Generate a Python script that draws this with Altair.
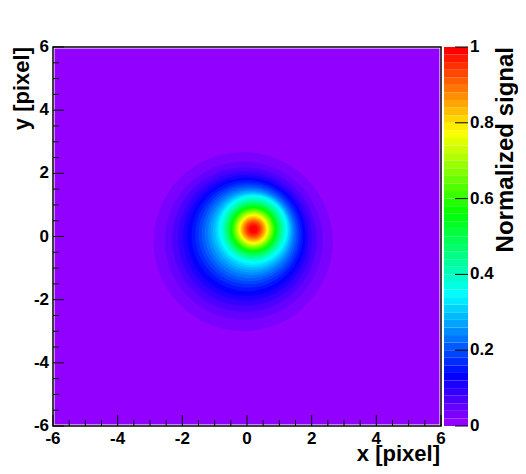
import math
import colorsys
import altair as alt
import pandas as pd

# ---------------- data ----------------
x_major = [-6, -4, -2, 0, 2, 4, 6]
x_labels = ["-6", "-4", "-2", "0", "2", "4", "6"]
y_major = [-6, -4, -2, 0, 2, 4, 6]
y_labels = ["-6", "-4", "-2", "0", "2", "4", "6"]
minor_ticks = [-5.5, -5, -4.5, -3.5, -3, -2.5, -1.5, -1, -0.5,
               0.5, 1, 1.5, 2.5, 3, 3.5, 4.5, 5, 5.5]
z_ticks = [0, 0.2, 0.4, 0.6, 0.8, 1.0]
z_labels = ["0", "0.2", "0.4", "0.6", "0.8", "1"]
x_title = "x [pixel]"
y_title = "y [pixel]"
z_title = "Normalized signal"

# contour level k (signal >= 0.02*k): approximate circle of each band
levels = list(range(1, 50))
radius = [2.800, 2.470, 2.260, 2.100, 1.965, 1.850, 1.746, 1.652, 1.566, 1.486,
          1.412, 1.344, 1.280, 1.220, 1.166, 1.113, 1.067, 1.022, 0.979, 0.940,
          0.903, 0.869, 0.836, 0.805, 0.775, 0.746, 0.719, 0.692, 0.666, 0.641,
          0.616, 0.592, 0.568, 0.544, 0.521, 0.497, 0.474, 0.451, 0.427, 0.403,
          0.379, 0.354, 0.328, 0.301, 0.272, 0.241, 0.207, 0.167, 0.116]
center_x = [-0.12, -0.10, -0.08, -0.06, -0.04, -0.02, 0.01, 0.03, 0.05, 0.07,
            0.09, 0.11, 0.13, 0.15, 0.17, 0.18, 0.19, 0.20, 0.20, 0.20,
            0.20, 0.20, 0.20, 0.20, 0.20, 0.20, 0.20, 0.20, 0.20, 0.20,
            0.20, 0.20, 0.20, 0.20, 0.20, 0.20, 0.20, 0.20, 0.20, 0.20,
            0.20, 0.20, 0.20, 0.20, 0.20, 0.20, 0.20, 0.20, 0.20]
center_y = [-0.16, -0.13, -0.10, -0.07, -0.04, -0.01, 0.03, 0.05, 0.07, 0.09,
            0.11, 0.13, 0.15, 0.17, 0.19, 0.21, 0.22, 0.23, 0.23, 0.23,
            0.23, 0.23, 0.23, 0.23, 0.23, 0.23, 0.23, 0.23, 0.23, 0.23,
            0.23, 0.23, 0.23, 0.23, 0.23, 0.23, 0.23, 0.23, 0.23, 0.23,
            0.23, 0.23, 0.23, 0.23, 0.23, 0.23, 0.23, 0.23, 0.23]

# ---------------- style ----------------
W, H = 388, 379
FONT = "Liberation Sans"
N_COL = 50


def root_color(i):
    hue = 0.0 if i == N_COL - 1 else 280.0 - (i + 1) * 280.0 / N_COL
    r, g, b = colorsys.hls_to_rgb(hue / 360.0, 0.5, 1.0)
    return "#%02x%02x%02x" % (round(r * 255), round(g * 255), round(b * 255))


palette = [root_color(i) for i in range(N_COL)]

xs = alt.Scale(domain=[-6, 6], nice=False, zero=False)
ys = alt.Scale(domain=[-6, 6], nice=False, zero=False)
zs = alt.Scale(domain=[0, 1], nice=False, zero=False)
r_px = 6 * (W / 12 + H / 12) / 2
txt = dict(font=FONT, fontWeight="bold", color="black")

# ---------------- main plot ----------------
bg_df = pd.DataFrame({"x": [-6], "x2": [6], "y": [-6], "y2": [6]})
bg = alt.Chart(bg_df).mark_rect(fill=palette[0], stroke="white", strokeWidth=3).encode(
    x=alt.X("x:Q", scale=xs, axis=None), x2="x2:Q",
    y=alt.Y("y:Q", scale=ys, axis=None), y2="y2:Q",
)

arc_df = pd.DataFrame({"k": levels, "r": radius, "cx": center_x, "cy": center_y,
                       "col": [palette[k] for k in levels]})
arcs = alt.Chart(arc_df).mark_arc(theta=0, theta2=2 * math.pi).encode(
    x=alt.X("cx:Q", scale=xs, axis=None, stack=False),
    y=alt.Y("cy:Q", scale=ys, axis=None, stack=False),
    radius=alt.Radius("r:Q", scale=alt.Scale(type="linear", domain=[0, 6], range=[0, r_px]),
                      stack=False),
    color=alt.Color("col:N", scale=None),
    order=alt.Order("k:Q"),
)

frame = alt.Chart(bg_df).mark_rect(fillOpacity=0, stroke="black", strokeWidth=1.5).encode(
    x=alt.X("x:Q", scale=xs, axis=None), x2="x2:Q",
    y=alt.Y("y:Q", scale=ys, axis=None), y2="y2:Q",
)

xmaj = alt.Chart(pd.DataFrame({"v": x_major})).mark_rule(color="black").encode(
    x=alt.X("v:Q", scale=xs, axis=None), y=alt.value(H), y2=alt.value(H - 11))
xmin = alt.Chart(pd.DataFrame({"v": minor_ticks})).mark_rule(color="black").encode(
    x=alt.X("v:Q", scale=xs, axis=None), y=alt.value(H), y2=alt.value(H - 6))
ymaj = alt.Chart(pd.DataFrame({"v": y_major})).mark_rule(color="black").encode(
    y=alt.Y("v:Q", scale=ys, axis=None), x=alt.value(0), x2=alt.value(11))
ymin = alt.Chart(pd.DataFrame({"v": minor_ticks})).mark_rule(color="black").encode(
    y=alt.Y("v:Q", scale=ys, axis=None), x=alt.value(0), x2=alt.value(6))

xlab = alt.Chart(pd.DataFrame({"v": x_major, "t": x_labels})).mark_text(
    fontSize=17, align="center", baseline="alphabetic", **txt).encode(
    x=alt.X("v:Q", scale=xs, axis=None), y=alt.value(H + 18), text="t:N")
ylab = alt.Chart(pd.DataFrame({"v": y_major, "t": y_labels})).mark_text(
    fontSize=17, align="right", baseline="middle", **txt).encode(
    y=alt.Y("v:Q", scale=ys, axis=None), x=alt.value(-4), text="t:N")

xtit = alt.Chart(pd.DataFrame({"t": [x_title]})).mark_text(
    fontSize=22, align="right", baseline="alphabetic", **txt).encode(
    x=alt.value(W - 1), y=alt.value(H + 35), text="t:N")
ytit = alt.Chart(pd.DataFrame({"t": [y_title]})).mark_text(
    fontSize=22, align="right", baseline="alphabetic", angle=270, **txt).encode(
    x=alt.value(-24), y=alt.value(0), text="t:N")

main = alt.layer(bg, arcs, xmaj, xmin, ymaj, ymin, frame, xlab, ylab, xtit, ytit)

# ---------------- colour bar ----------------
CB_L, CB_R = W + 3, W + 27
cb_df = pd.DataFrame({"z0": [i / N_COL for i in range(N_COL)],
                      "z1": [(i + 1) / N_COL for i in range(N_COL)],
                      "col": palette})
cbar = alt.Chart(cb_df).mark_rect().encode(
    y=alt.Y("z0:Q", scale=zs, axis=None, stack=False), y2="z1:Q",
    x=alt.value(CB_L), x2=alt.value(CB_R),
    color=alt.Color("col:N", scale=None),
)
cticks = alt.Chart(pd.DataFrame({"z": z_ticks})).mark_rule(color="black").encode(
    y=alt.Y("z:Q", scale=zs, axis=None), x=alt.value(CB_R - 13), x2=alt.value(CB_R))
clab = alt.Chart(pd.DataFrame({"z": z_ticks, "t": z_labels})).mark_text(
    fontSize=17, align="left", baseline="middle", **txt).encode(
    y=alt.Y("z:Q", scale=zs, axis=None), x=alt.value(CB_R + 2), text="t:N")
ztit = alt.Chart(pd.DataFrame({"t": [z_title]})).mark_text(
    fontSize=24, align="right", baseline="alphabetic", angle=270, **txt).encode(
    x=alt.value(CB_R + 45), y=alt.value(0), text="t:N")

colorbar = alt.layer(cbar, cticks, clab, ztit)

chart = alt.layer(main, colorbar).resolve_scale(y="independent").properties(
    width=W, height=H,
    autosize=alt.AutoSizeParams(type="none"),
    padding={"left": 45, "top": 39, "right": 77, "bottom": 40},
    background="white",
).configure_view(stroke=None)

chart.save("out.html", embed_options={"renderer": "svg", "actions": False})
